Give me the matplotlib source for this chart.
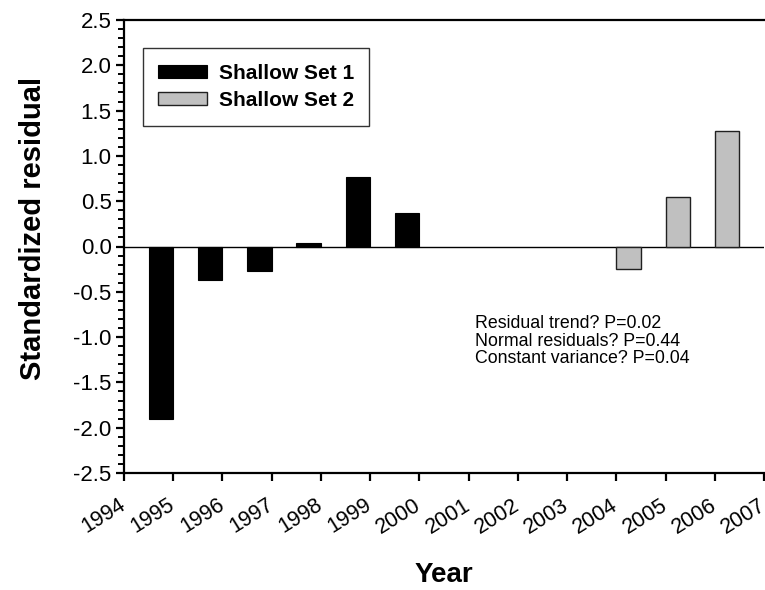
import numpy as np
import matplotlib
matplotlib.use("Agg")
import matplotlib.pyplot as plt
from matplotlib.ticker import MultipleLocator
from matplotlib.transforms import ScaledTranslation

plt.rcParams["font.family"] = ["Liberation Sans", "DejaVu Sans"]
plt.rcParams["axes.unicode_minus"] = False

# standardized residuals per survey year
years_set1 = [1995, 1996, 1997, 1998, 1999, 2000]
resid_set1 = [-1.90, -0.37, -0.27, 0.04, 0.77, 0.37]
years_set2 = [2004, 2005, 2006]
resid_set2 = [-0.25, 0.55, 1.28]
year_ticks = list(range(1994, 2008))
stats_text = ["Residual trend? P=0.02",
              "Normal residuals? P=0.44",
              "Constant variance? P=0.04"]

fig = plt.figure(figsize=(7.65, 5.9), dpi=100)
ax = fig.add_axes([124 / 765, 117 / 590, 640 / 765, 453 / 590])

w = 0.5
ax.bar(np.array(years_set1) - w / 2, resid_set1, w, color="black",
       edgecolor="black", linewidth=0.8, label="Shallow Set 1", zorder=3)
ax.bar(np.array(years_set2) + w / 2, resid_set2, w, color="#c0c0c0",
       edgecolor="#202020", linewidth=1.0, label="Shallow Set 2", zorder=3)
ax.axhline(0, color="black", lw=1.0, zorder=2)

ax.set_xlim(1994, 2007)
ax.set_ylim(-2.5, 2.5)
ax.set_xticks(year_ticks)
ax.set_xticklabels([str(y) for y in year_ticks], rotation=32, ha="right",
                   va="center", rotation_mode="anchor", fontsize=15.5)
shift = ScaledTranslation(6 / 72, 3 / 72, fig.dpi_scale_trans)
for lbl in ax.get_xticklabels():
    lbl.set_transform(lbl.get_transform() + shift)
ax.yaxis.set_major_locator(MultipleLocator(0.5))
ax.yaxis.set_minor_locator(MultipleLocator(0.1))
yt = np.arange(-2.5, 2.51, 0.5)
ax.set_yticks(yt)
ax.set_yticklabels([f"{v:.1f}" for v in yt], fontsize=16)

for side in ("left", "bottom", "top"):
    ax.spines[side].set_linewidth(1.6)
ax.spines["right"].set_visible(False)
ax.tick_params(axis="both", which="major", direction="out", length=6,
               width=1.6, top=False, right=False)
ax.tick_params(axis="x", which="major", pad=16)
ax.tick_params(axis="y", which="minor", direction="out", length=4, width=1.4)
ax.tick_params(axis="y", which="major", pad=3)

ax.set_ylabel("Standardized residual", fontsize=21, fontweight="bold")
ax.yaxis.set_label_coords(-0.121, 0.54)
ax.set_xlabel("Year", fontsize=20, fontweight="bold")
ax.xaxis.set_label_coords(0.5, -0.197)

leg = ax.legend(loc="upper left", bbox_to_anchor=(0.029, 0.938),
                prop={"weight": "bold", "size": 15}, frameon=True,
                fancybox=False, edgecolor="black", borderpad=0.75,
                handlelength=2.35, handleheight=0.58, handletextpad=0.55,
                labelspacing=0.4, borderaxespad=0)
leg.get_frame().set_linewidth(1.0)

ax.text(0.548, 0.348, "\n".join(stats_text), transform=ax.transAxes,
        fontsize=12.8, va="top", ha="left", linespacing=1.04)

fig.savefig("out.png", dpi=100)
